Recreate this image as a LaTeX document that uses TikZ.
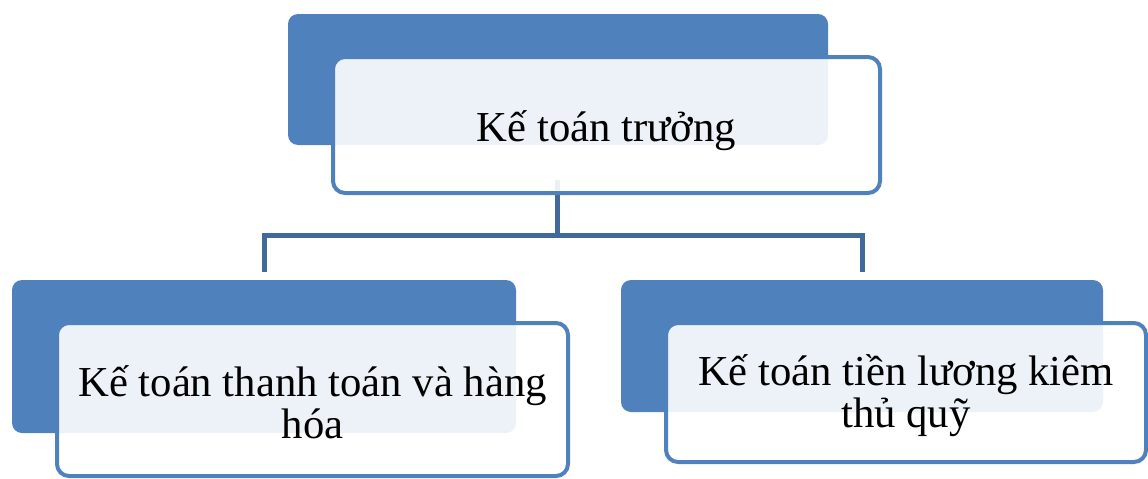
\documentclass[tikz,border=0pt]{standalone}
\usepackage{fontspec}
\setmainfont{Liberation Serif}
\definecolor{accent}{HTML}{4F81BD}
\definecolor{linkblue}{HTML}{41699B}
\begin{document}
\begin{tikzpicture}[x=1pt,y=-1pt,
  backbox/.style={fill=accent, rounded corners=10pt, inner sep=0pt},
  frontbox/.style={draw=accent, line width=4pt, fill=white, fill opacity=0.9,
    rounded corners=12pt, inner sep=0pt},
  caption/.style={align=center, inner sep=0pt, font=\fontsize{42.7}{42}\selectfont},
  conn/.style={draw=linkblue, line width=5pt}]
\useasboundingbox (0,0) rectangle (1148,479);

% shaded back panels
\node[backbox, minimum width=540pt, minimum height=131pt] (topback) at (558,79.5) {};
\node[backbox, minimum width=504pt, minimum height=153pt] (leftback) at (264,356.5) {};
\node[backbox, minimum width=482pt, minimum height=132pt] (rightback) at (862,346) {};

% connector tree
\coordinate (root) at (557,180);
\coordinate (bus) at (557,235);
\coordinate (leftdrop) at (leftback.north |- 0,272);
\coordinate (rightdrop) at (rightback.north |- 0,272);
\draw[conn] (root) -- (bus);
\draw[conn] (leftdrop) -- (leftdrop |- bus) -- (rightdrop |- bus) -- (rightdrop);

% translucent text panels on top
\node[frontbox, minimum width=547pt, minimum height=136pt] (top) at (606.5,125) {};
\node[frontbox, minimum width=511pt, minimum height=153pt] (left) at (312.5,399.5) {};
\node[frontbox, minimum width=480pt, minimum height=139pt] (right) at (906,392.5) {};

% captions
\node[caption] (toptext) at ([yshift=-6pt]top.center) {Kế toán trưởng};
\node[caption] (lefttext) at ([yshift=-3pt]left.center) {Kế toán thanh toán và hàng\\hóa};
\node[caption] (righttext) at ([yshift=-3pt]right.center) {Kế toán tiền lương kiêm\\thủ quỹ};
\end{tikzpicture}
\end{document}
